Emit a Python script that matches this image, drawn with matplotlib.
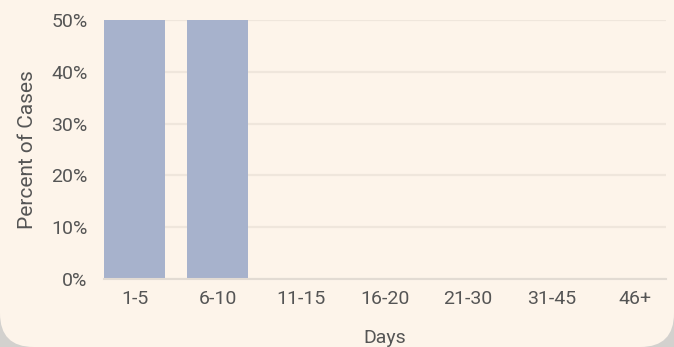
import matplotlib.pyplot as plt
from matplotlib.patches import FancyBboxPatch
from matplotlib.ticker import FuncFormatter

# data
days = ['1-5', '6-10', '11-15', '16-20', '21-30', '31-45', '46+']
percent_cases = [50, 50, 0, 0, 0, 0, 0]

plt.rcParams['font.family'] = ['Roboto', 'DejaVu Sans']

bg = '#fdf4ea'
text_col = '#555555'
fs = 14

fig = plt.figure(figsize=(6.74, 3.47), dpi=100, facecolor='#d3d1ce')

# card background with rounded bottom corners
card = FancyBboxPatch((0.0, 0.0), 1.0, 1.2, boxstyle='round,pad=0,rounding_size=0.05',
                      transform=fig.transFigure, facecolor=bg, edgecolor='none',
                      mutation_aspect=674 / 347, zorder=-5)
fig.patches.append(card)

ax = fig.add_axes([104 / 674, 1 - 279 / 347, (666 - 104) / 674, (279 - 20) / 347])
ax.set_facecolor(bg)

x = range(len(days))
ax.bar(x, percent_cases, width=0.73, color='#a7b2cc', zorder=3)

ax.set_xlim(-0.365, 6.37)
ax.set_ylim(0, 50)
ax.set_yticks([0, 10, 20, 30, 40, 50])
ax.yaxis.set_major_formatter(FuncFormatter(lambda v, p: f'{int(v)}%'))
ax.set_xticks(list(x))
ax.set_xticklabels(days)

ax.grid(axis='y', color='#efe6dc', linewidth=1.6, zorder=0)
for s in ['top', 'right', 'left']:
    ax.spines[s].set_visible(False)
ax.spines['bottom'].set_color('#e2dbd3')
ax.spines['bottom'].set_linewidth(1.5)
ax.spines['bottom'].set_zorder(4)

ax.tick_params(axis='both', length=0, labelsize=fs, colors=text_col)
ax.tick_params(axis='y', pad=12)
ax.tick_params(axis='x', pad=8)

ax.set_xlabel('Days', fontsize=fs, color=text_col, labelpad=15)
ax.set_ylabel('Percent of Cases', fontsize=15, color=text_col, labelpad=10)

plt.savefig('out.png', dpi=100, facecolor=fig.get_facecolor())
